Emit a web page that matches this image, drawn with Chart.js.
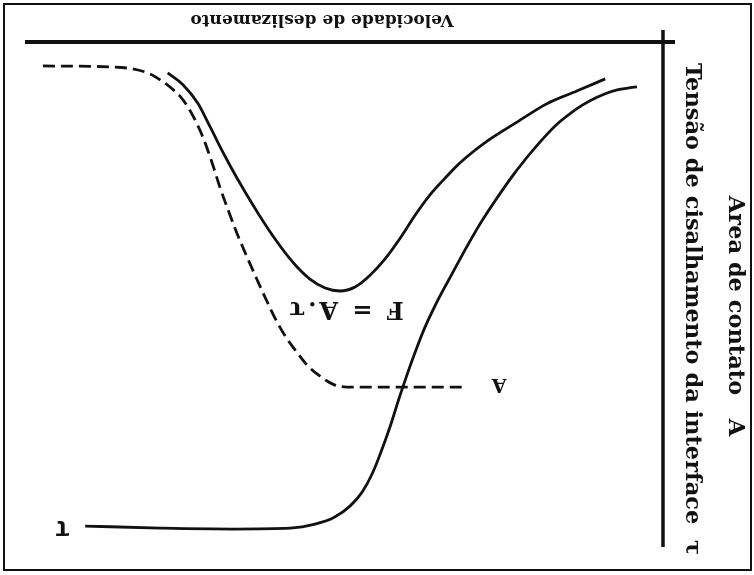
<!DOCTYPE html>
<html>
<head>
<meta charset="utf-8">
<script src="https://cdn.jsdelivr.net/npm/chart.js@4.4.1/dist/chart.umd.min.js"></script>
<style>
  html, body { margin: 0; padding: 0; background: #ffffff; }
  /* the whole figure is printed turned half a revolution */
  #sheet { width: 754px; height: 575px; transform: rotate(180deg); transform-origin: 50% 50%; }
  canvas { display: block; }
</style>
</head>
<body>
<div id="sheet"><canvas id="chart" width="754" height="575"></canvas></div>
<script>
// Sliding velocity on x, all quantities in arbitrary units (0-100)

// Contact area A (dashed)
const areaVelocity = [31.7, 49.8, 52.0, 54.0, 55.9, 57.6, 59.2, 60.8, 62.4, 63.9, 65.5, 67.1, 68.5, 69.8, 71.0, 72.4, 74.0, 75.6, 77.3, 79.2, 80.8, 83.5, 87.1, 98.4];
const areaValues   = [69.3, 69.3, 68.7, 67.1, 65.1, 62.4, 59.6, 56.2, 52.0, 47.8, 43.2, 38.4, 33.7, 29.1, 24.3, 19.3, 14.9, 11.6, 9.4, 7.6, 6.4, 5.4, 5.0, 4.8];

// Interface shear stress tau
const shearVelocity = [4.1, 7.2, 9.1, 11.5, 13.9, 16.7, 19.8, 23.0, 25.7, 28.8, 31.2, 33.5, 35.6, 37.6, 39.5, 41.4, 43.0, 44.4, 45.8, 47.4, 49.3, 51.7, 54.8, 58.7, 67.7, 79.2, 91.0];
const shearValues   = [9.0, 9.6, 10.4, 11.8, 13.7, 16.5, 20.7, 25.7, 30.5, 36.5, 41.8, 47.2, 52.2, 57.6, 63.9, 70.9, 77.3, 82.3, 86.7, 90.4, 93.2, 95.4, 96.8, 97.6, 97.8, 97.6, 97.2];

// Friction force F = A * tau
const forceVelocity = [9.1, 13.5, 18.3, 23.0, 27.7, 32.0, 34.3, 36.7, 39.1, 41.4, 43.8, 46.1, 48.5, 50.9, 53.2, 55.6, 58.3, 61.4, 64.6, 67.1, 69.4, 71.3, 73.2, 75.6, 78.0];
const forceValues   = [7.4, 9.8, 12.4, 16.1, 19.9, 24.3, 27.3, 30.7, 34.9, 39.4, 43.6, 46.8, 49.2, 50.0, 49.4, 47.6, 44.2, 39.0, 32.7, 27.3, 21.9, 17.1, 12.4, 8.6, 6.2];

// Text
const xTitle = 'Velocidade de deslizamento';
const yTitleOuter = 'Area de contato   A';
const yTitleInner = 'Tensão de cisalhamento da interface  τ';
const forceLabel = 'F = A.τ';
const areaLabel = 'A';
const shearLabel = 'τ';

// Label anchors in data units
const forceLabelAt = [50.1, 53.4];
const areaLabelAt  = [25.8, 68.7];
const shearLabelAt = [94.6, 97.6];

const toPoints = (xs, ys) => xs.map((x, i) => ({ x: x, y: ys[i] }));

const ink = '#111111';

const figureDecor = {
  id: 'figureDecor',
  afterDraw(chart) {
    const ctx = chart.ctx;
    const a = chart.chartArea;
    const xs = chart.scales.x, ys = chart.scales.y;
    ctx.save();

    // outer frame
    ctx.strokeStyle = ink;
    ctx.lineWidth = 2;
    ctx.strokeRect(3, 5, 747, 566);

    // axes
    ctx.lineWidth = 4;
    ctx.lineCap = 'butt';
    ctx.beginPath();
    ctx.moveTo(a.left - 12, a.bottom);
    ctx.lineTo(a.right + 3, a.bottom);
    ctx.stroke();
    ctx.lineWidth = 3.5;
    ctx.beginPath();
    ctx.moveTo(a.left, a.bottom + 12);
    ctx.lineTo(a.left, 28);
    ctx.stroke();

    ctx.fillStyle = ink;
    ctx.textAlign = 'center';
    ctx.textBaseline = 'middle';

    // x title
    ctx.font = 'bold 17px "DejaVu Serif"';
    ctx.fillText(xTitle, 432, 556);

    // y titles
    ctx.font = 'bold 22.5px "DejaVu Serif"';
    ctx.save();
    ctx.translate(62, 266);
    ctx.rotate(-Math.PI / 2);
    ctx.fillText(yTitleInner, 0, 0);
    ctx.restore();
    ctx.save();
    ctx.translate(19, 259);
    ctx.rotate(-Math.PI / 2);
    ctx.fillText(yTitleOuter, 0, 0);
    ctx.restore();

    // curve labels
    ctx.font = 'bold 24px "DejaVu Serif"';
    ctx.letterSpacing = '3px';
    ctx.fillText(forceLabel, xs.getPixelForValue(forceLabelAt[0]), ys.getPixelForValue(forceLabelAt[1]));
    ctx.letterSpacing = '0px';
    ctx.font = 'bold 19px "DejaVu Serif"';
    ctx.fillText(areaLabel, xs.getPixelForValue(areaLabelAt[0]), ys.getPixelForValue(areaLabelAt[1]));
    ctx.font = 'bold 28px "Liberation Mono"';
    ctx.fillText(shearLabel, xs.getPixelForValue(shearLabelAt[0]), ys.getPixelForValue(shearLabelAt[1]));

    ctx.restore();
  }
};

const curveStyle = {
  showLine: true,
  borderColor: ink,
  borderWidth: 2.8,
  pointRadius: 0,
  cubicInterpolationMode: 'monotone',
  fill: false
};

new Chart(document.getElementById('chart'), {
  type: 'scatter',
  data: {
    datasets: [
      Object.assign({ label: 'A', data: toPoints(areaVelocity, areaValues), borderDash: [12, 6] }, curveStyle),
      Object.assign({ label: 'τ', data: toPoints(shearVelocity, shearValues) }, curveStyle),
      Object.assign({ label: 'F', data: toPoints(forceVelocity, forceValues) }, curveStyle)
    ]
  },
  options: {
    responsive: false,
    animation: false,
    devicePixelRatio: 1,
    layout: { padding: { left: 91, right: 28, top: 35, bottom: 42 } },
    plugins: { legend: { display: false }, tooltip: { enabled: false } },
    scales: {
      x: { type: 'linear', min: 0, max: 100, display: false },
      y: { type: 'linear', min: 0, max: 100, display: false }
    }
  },
  plugins: [figureDecor]
});
</script>
</body>
</html>
